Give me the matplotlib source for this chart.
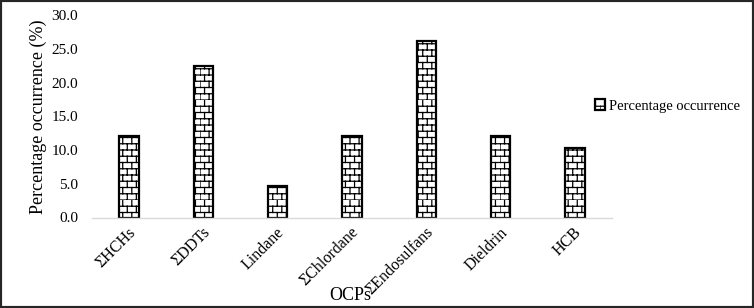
import numpy as np
import matplotlib
matplotlib.use('Agg')
import matplotlib.pyplot as plt
import matplotlib.hatch as mhatch
from matplotlib.path import Path
from matplotlib.patches import Rectangle

categories = ['ΣHCHs', 'ΣDDTs', 'Lindane', 'ΣChlordane', 'ΣEndosulfans', 'Dieldrin', 'HCB']
occurrence = [12.1, 22.4, 4.6, 12.1, 26.2, 12.1, 10.3]
yticks = [0, 5, 10, 15, 20, 25, 30]
series_name = 'Percentage occurrence'


# brick hatch: swaps in for the '-' hatch pattern
class BrickHatch(mhatch.HatchPatternBase):
    rows = 16
    cols = 11

    def __init__(self, hatch, density):
        self.on = hatch.count('-') > 0
        self.num_vertices = (self.rows * 2 + self.rows * self.cols * 2) if self.on else 0

    def set_vertices_and_codes(self, vertices, codes):
        i = 0
        for r in range(self.rows):
            y = r / self.rows
            vertices[i] = (0.0, y)
            vertices[i + 1] = (1.0, y)
            codes[i] = Path.MOVETO
            codes[i + 1] = Path.LINETO
            i += 2
        for r in range(self.rows):
            y0 = r / self.rows
            y1 = (r + 1) / self.rows
            off = 0.5 / self.cols if r % 2 else 0.0
            for c in range(self.cols):
                x = c / self.cols + off
                vertices[i] = (x, y0)
                vertices[i + 1] = (x, y1)
                codes[i] = Path.MOVETO
                codes[i + 1] = Path.LINETO
                i += 2


mhatch._hatch_types[0] = BrickHatch

plt.rcParams['font.family'] = ['Liberation Serif', 'DejaVu Serif']
plt.rcParams['hatch.linewidth'] = 0.9

fig = plt.figure(figsize=(7.54, 3.08), dpi=100)
ax = fig.add_axes([92 / 754, (308 - 217.5) / 308, 520 / 754, 202.5 / 308])

x = np.arange(len(categories))
ax.bar(x, occurrence, width=0.26, color='white', edgecolor='black',
       linewidth=1.6, hatch='-', label=series_name)

ax.set_xlim(-0.5, len(categories) - 0.5)
ax.set_ylim(0, 30)
ax.set_yticks(yticks)
ax.set_yticklabels(['%.1f' % v for v in yticks], fontsize=11)
ax.set_xticks(x + 0.06)
ax.set_xticklabels(categories, rotation=45, ha='right', va='center',
                   rotation_mode='anchor', fontsize=11.5)
ax.tick_params(axis='both', length=0)
ax.tick_params(axis='x', pad=9)
ax.tick_params(axis='y', pad=10)

for side in ['top', 'right', 'left']:
    ax.spines[side].set_visible(False)
ax.spines['bottom'].set_color('#d9d9d9')
ax.spines['bottom'].set_linewidth(1.0)

ax.set_ylabel('Percentage occurrence (%)', fontsize=13, labelpad=3)
fig.text(350 / 754, 1 - 296 / 308, 'OCPs', fontsize=13, ha='center', va='center')

fig.legend(loc='center left', bbox_to_anchor=(589 / 754, 1 - 106 / 308),
           frameon=False, fontsize=10.5, handlelength=0.7, handleheight=0.7,
           handletextpad=0.3, borderaxespad=0)

fig.patches.append(Rectangle((0, 0), 1, 1, transform=fig.transFigure,
                             fill=False, edgecolor='#262626', linewidth=3))

fig.savefig('out.png', dpi=100)
